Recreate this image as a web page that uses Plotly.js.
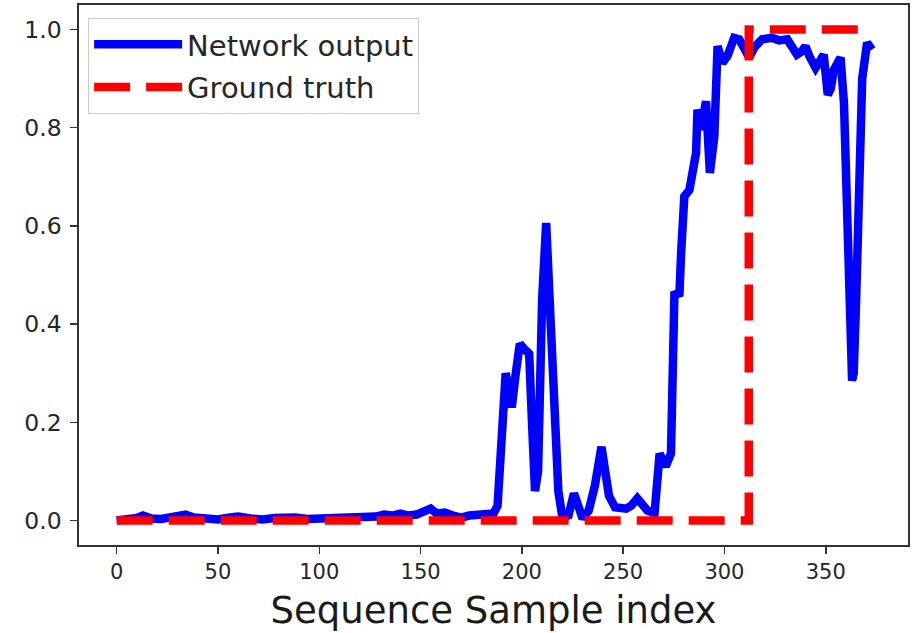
<!DOCTYPE html>
<html>
<head>
<meta charset="utf-8">
<script src="https://cdn.plot.ly/plotly-3.0.1.min.js"></script>
<style>html,body{margin:0;padding:0;background:#fff;}#chart{width:918px;height:633px;}</style>
</head>
<body>
<div id="chart"></div>
<script>
// Network output (blue) samples
const netX = [0,5,10,13,17,22,28,34,38,44,50,56,60,66,72,78,84,88,94,100,106,112,118,124,128,132,136,140,144,148,152,155,158,162,166,170,174,178,182,186,188,190,192,194,195,197,199,201,203.6,205,206.5,208,210,212,213.9,216.3,218,220,223,225.7,228,230,233,236,239.3,241,243,246,251.5,254,257,260,262,265.5,268,271,273.6,275.3,277.8,278.6,280.2,282.7,286,286.7,288.4,290.9,292.8,295,296.6,299,301.5,304.8,307.3,310,312.2,315,318.6,323.5,327,331,333,335.8,338,340,342,345,347,349,351,352.5,354,357.3,359,361,362.3,363,363.8,365,366.5,368,370.4,372.8];
const netY = [0,0.002,0.005,0.01,0.004,0.003,0.006,0.012,0.006,0.003,0.002,0.006,0.008,0.004,0.002,0.005,0.008,0.006,0.003,0.004,0.005,0.006,0.005,0.004,0.008,0.012,0.01,0.014,0.01,0.012,0.02,0.024,0.014,0.016,0.01,0.006,0.01,0.012,0.01,0.014,0.03,0.2,0.30,0.26,0.23,0.3,0.36,0.35,0.34,0.2,0.06,0.1,0.45,0.606,0.45,0.18,0.06,0.006,0.01,0.055,0.02,0.004,0.02,0.07,0.15,0.1,0.05,0.027,0.024,0.03,0.045,0.03,0.02,0.015,0.136,0.11,0.136,0.46,0.463,0.544,0.66,0.673,0.749,0.837,0.796,0.854,0.708,0.782,0.966,0.932,0.946,0.983,0.98,0.96,0.943,0.965,0.98,0.983,0.978,0.98,0.965,0.949,0.955,0.966,0.945,0.922,0.935,0.949,0.867,0.88,0.918,0.943,0.85,0.6,0.38,0.285,0.3,0.45,0.72,0.9,0.973,0.959];
// Ground truth (red dashed step)
const truthX = [0,312,373];
const truthY = [0,1,1];
const xTicks = [0,50,100,150,200,250,300,350];
const yTicks = [0,0.2,0.4,0.6,0.8,1.0];

const FONT = 'DejaVu Sans, sans-serif';
const data = [
  {x: netX, y: netY, type: 'scatter', mode: 'lines', name: 'Network output', legendgroup: 'a',
   line: {color: '#0000ff', width: 8.5}},
  {x: truthX, y: truthY, type: 'scatter', mode: 'lines', name: 'Ground truth', legendgroup: 'b',
   line: {color: '#ff0000', width: 8.5, dash: '36px,16px', shape: 'hv'}}
];
const layout = {
  width: 918, height: 633,
  margin: {l: 79, r: 10, t: 5, b: 88},
  paper_bgcolor: '#fff', plot_bgcolor: '#fff',
  showlegend: true,
  legend: {x: 0.011, y: 0.976, xanchor: 'left', yanchor: 'top', bgcolor: '#fff',
           bordercolor: '#cccccc', borderwidth: 1, font: {family: FONT, size: 29, color: '#262626'},
           itemwidth: 88, traceorder: 'grouped', tracegroupgap: 2},
  xaxis: {range: [-18.6, 390.6], tickvals: xTicks, ticktext: xTicks.map(String),
          showgrid: false, zeroline: false, showline: true, mirror: true, linecolor: '#333', linewidth: 1.6,
          ticks: 'outside', ticklen: 7, tickwidth: 1.5, tickcolor: '#333',
          tickfont: {family: FONT, size: 21, color: '#262626'},
          title: {text: 'Sequence Sample index', font: {family: FONT, size: 37, color: '#1a1a1a'}, standoff: 14}},
  yaxis: {range: [-0.05, 1.05], tickvals: yTicks, ticktext: yTicks.map(v => v.toFixed(1)),
          showgrid: false, zeroline: false, showline: true, mirror: true, linecolor: '#333', linewidth: 1.6,
          ticks: 'outside', ticklen: 7, tickwidth: 1.5, tickcolor: '#333', ticklabelstandoff: 4,
          tickfont: {family: FONT, size: 23.5, color: '#262626'}}
};
Plotly.newPlot('chart', data, layout, {displayModeBar: false, staticPlot: true});
</script>
</body>
</html>
